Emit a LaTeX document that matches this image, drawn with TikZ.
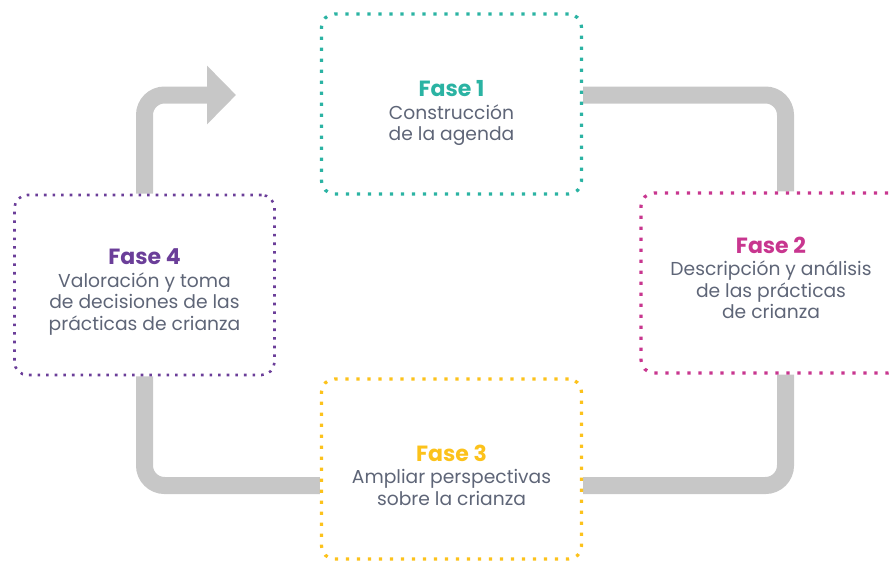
\documentclass[tikz,border=0pt]{standalone}
\usepackage{fontspec}
\setmainfont{Poppins}
\usetikzlibrary{arrows.meta,backgrounds}
\definecolor{tealc}{HTML}{2BB3A3}
\definecolor{magc}{HTML}{C8368F}
\definecolor{yelc}{HTML}{FCC21B}
\definecolor{purc}{HTML}{6B3E99}
\definecolor{txtc}{HTML}{5E6577}
\definecolor{flowc}{HTML}{C7C7C7}
\newcommand{\ttlfont}{\fontsize{22}{24}\selectfont\bfseries}
\begin{document}
\begin{tikzpicture}[x=1pt,y=-1pt,
  box/.style={rectangle, rounded corners=13pt, minimum width=260pt, minimum height=180pt,
    line width=3.2pt, dash pattern=on 3.2pt off 7.8pt},
  lbl/.style={align=center, text=txtc, font=\fontsize{18.7}{21.5}\selectfont},
  flow/.style={draw=flowc, line width=17pt, rounded corners=20pt},
]
\useasboundingbox (0,0) rectangle (890,571);

\node[box, draw=tealc] (b1) at (451.5,104) {};
\node[box, draw=magc] (b2) at (771,283) {};
\node[box, draw=yelc] (b3) at (451.5,469) {};
\node[box, draw=purc, line width=2.6pt, dash pattern=on 2.6pt off 6pt] (b4) at (144.5,285) {};

\node[lbl, yshift=-9pt] (t1) at (b1.center) {{\color{tealc}\ttlfont Fase 1}\\[1pt]Construcción\\de la agenda};
\node[lbl, yshift=5pt] (t2) at (b2.center) {{\color{magc}\ttlfont Fase 2}\\[1pt]Descripción y análisis\\de las prácticas\\de crianza};
\node[lbl, yshift=-6pt] (t3) at (b3.center) {{\color{yelc}\ttlfont Fase 3}\\[1pt]Ampliar perspectivas\\sobre la crianza};
\node[lbl, yshift=-7pt] (t4) at (b4.center) {{\color{purc}\ttlfont Fase 4}\\[1pt]Valoración y toma\\de decisiones de las\\prácticas de crianza};

\coordinate (a1) at (236,95);
\coordinate (c1) at (785.5,95);
\coordinate (c2) at (785.5,485.5);

\begin{scope}[on background layer]
\draw[flow, -{Triangle[length=29pt,width=57pt]}] (b4.north) |- (a1);
\draw[flow] (b1.east |- c1) -- (c1) -- (c1 |- b2.north);
\draw[flow] (c1 |- b2.south) -- (c2) -- (b3.east |- c2);
\draw[flow] (b3.west |- c2) -| (b4.south);
\end{scope}
\end{tikzpicture}
\end{document}
